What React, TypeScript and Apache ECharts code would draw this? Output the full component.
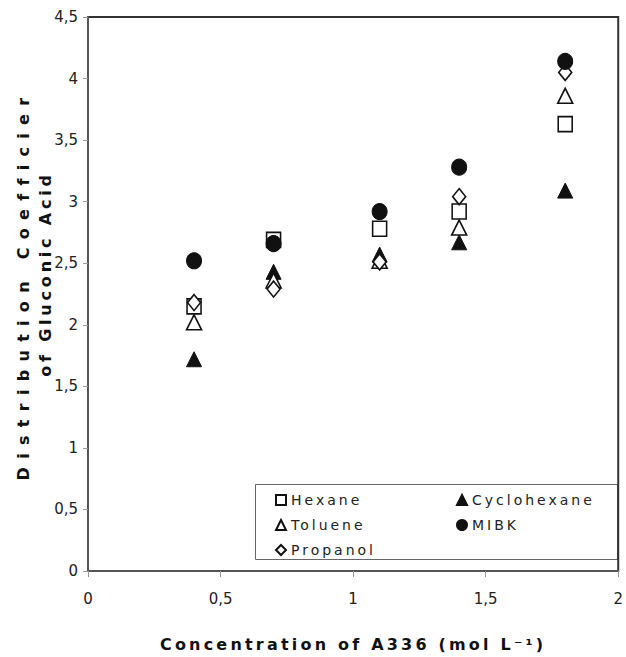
import React, { useEffect, useRef } from 'react';
import * as echarts from 'echarts';

const concentrations = [0.4, 0.7, 1.1, 1.4, 1.8];
const hexane = [2.15, 2.69, 2.78, 2.92, 3.63];
const cyclohexane = [1.72, 2.43, 2.57, 2.67, 3.09];
const toluene = [2.02, 2.36, 2.52, 2.79, 3.86];
const mibk = [2.52, 2.66, 2.92, 3.28, 4.14];
const propanol = [2.18, 2.29, 2.51, 3.04, 4.05];

const xTickLabels = ['0', '0,5', '1', '1,5', '2'];
const yTickLabels = ['0', '0,5', '1', '1,5', '2', '2,5', '3', '3,5', '4', '4,5'];

const xTitle = 'Concentration of A336 (mol L\u207B\u00B9)';
const yTitleLine1 = 'Distribution Coefficier';
const yTitleLine2 = 'of Gluconic Acid';

const seriesDefs = [
  { name: 'Hexane', values: hexane, symbol: 'rect', size: [14, 15], filled: false },
  { name: 'Cyclohexane', values: cyclohexane, symbol: 'triangle', size: [15, 15], filled: true },
  { name: 'Toluene', values: toluene, symbol: 'triangle', size: [15, 15], filled: false },
  { name: 'Propanol', values: propanol, symbol: 'diamond', size: [13, 16], filled: false },
  { name: 'MIBK', values: mibk, symbol: 'circle', size: [15, 16], filled: true },
];

const css = `
#chartbox text[style*="Verdana"], #chartbox text[font-family*="Verdana"] { letter-spacing: 8.3px; }
#chartbox text[style*="Tahoma"], #chartbox text[font-family*="Tahoma"] { letter-spacing: 3.8px; }
#chartbox text[style*="Geneva"], #chartbox text[font-family*="Geneva"] { letter-spacing: 3.2px; }
#chartbox text[style*="Arimo"], #chartbox text[font-family*="Arimo"] { letter-spacing: 3px; }
`;

export default function App() {
  const ref = useRef<HTMLDivElement>(null);
  useEffect(() => {
    if (!ref.current) return;
    const chart = echarts.init(ref.current, null, { renderer: 'svg' });
    const tickFont = { fontFamily: "'DejaVu Sans'", fontSize: 15, color: '#222' };
    chart.setOption({
      animation: false,
      backgroundColor: '#fff',
      grid: {
        left: 88,
        top: 17,
        right: 5,
        bottom: 83,
        show: true,
        borderColor: '#333',
        borderWidth: 2,
        containLabel: false,
      },
      xAxis: {
        type: 'value',
        min: 0,
        max: 2,
        interval: 0.5,
        name: xTitle,
        nameLocation: 'middle',
        nameGap: 65,
        nameTextStyle: {
          fontFamily: "'DejaVu Sans', Geneva",
          fontWeight: 'bold',
          fontSize: 16,
          color: '#111',
        },
        axisLine: { show: true, lineStyle: { color: '#555', width: 2 } },
        axisTick: { show: true, inside: false, length: 6, lineStyle: { color: '#999', width: 1 } },
        splitLine: { show: false },
        axisLabel: {
          ...tickFont,
          margin: 20,
          formatter: (v: number) => xTickLabels[Math.round(v / 0.5)] ?? String(v),
        },
      },
      yAxis: {
        type: 'value',
        min: 0,
        max: 4.5,
        interval: 0.5,
        axisLine: { show: true, lineStyle: { color: '#555', width: 2 } },
        axisTick: { show: true, inside: false, length: 5, lineStyle: { color: '#999', width: 1 } },
        splitLine: { show: false },
        axisLabel: {
          ...tickFont,
          margin: 10,
          formatter: (v: number) => yTickLabels[Math.round(v / 0.5)] ?? String(v),
        },
      },
      legend: [
        {
          orient: 'vertical',
          left: 270,
          top: 487,
          data: ['Hexane', 'Toluene', 'Propanol'],
          itemWidth: 10,
          itemHeight: 10,
          itemGap: 9,
          textStyle: { fontFamily: "'DejaVu Sans', Arimo", fontSize: 14, color: '#222', lineHeight: 16 },
        },
        {
          orient: 'vertical',
          left: 451,
          top: 487,
          data: ['Cyclohexane', 'MIBK'],
          itemWidth: 10,
          itemHeight: 10,
          itemGap: 9,
          textStyle: { fontFamily: "'DejaVu Sans', Arimo", fontSize: 14, color: '#222', lineHeight: 16 },
        },
      ],
      graphic: [
        {
          type: 'rect',
          left: 253,
          top: 482,
          shape: { width: 362, height: 75 },
          style: { fill: 'none', stroke: '#666', lineWidth: 1 },
          z: -1,
        },
        {
          type: 'text',
          x: 23,
          y: 285,
          rotation: Math.PI / 2,
          style: {
            text: yTitleLine1,
            fontFamily: "'DejaVu Sans', Verdana",
            fontWeight: 'bold',
            fontSize: 16,
            fill: '#111',
            align: 'center',
            verticalAlign: 'middle',
          },
        },
        {
          type: 'text',
          x: 45,
          y: 274,
          rotation: Math.PI / 2,
          style: {
            text: yTitleLine2,
            fontFamily: "'DejaVu Sans', Tahoma",
            fontWeight: 'bold',
            fontSize: 16,
            fill: '#111',
            align: 'center',
            verticalAlign: 'middle',
          },
        },
      ],
      series: seriesDefs.map((s) => ({
        type: 'scatter',
        name: s.name,
        symbol: s.symbol,
        symbolSize: s.size,
        data: concentrations.map((x, i) => [x, s.values[i]]),
        itemStyle: s.filled
          ? { color: '#111', borderColor: '#111', borderWidth: 1, opacity: 1 }
          : { color: '#fff', borderColor: '#111', borderWidth: 1.6, opacity: 1 },
        emphasis: { disabled: true },
      })),
    });
    return () => chart.dispose();
  }, []);
  return (
    <>
      <style>{css}</style>
      <div
        id="chartbox"
        ref={ref}
        style={{ position: 'fixed', left: 0, top: 0, width: 626, height: 657 }}
      />
    </>
  );
}
